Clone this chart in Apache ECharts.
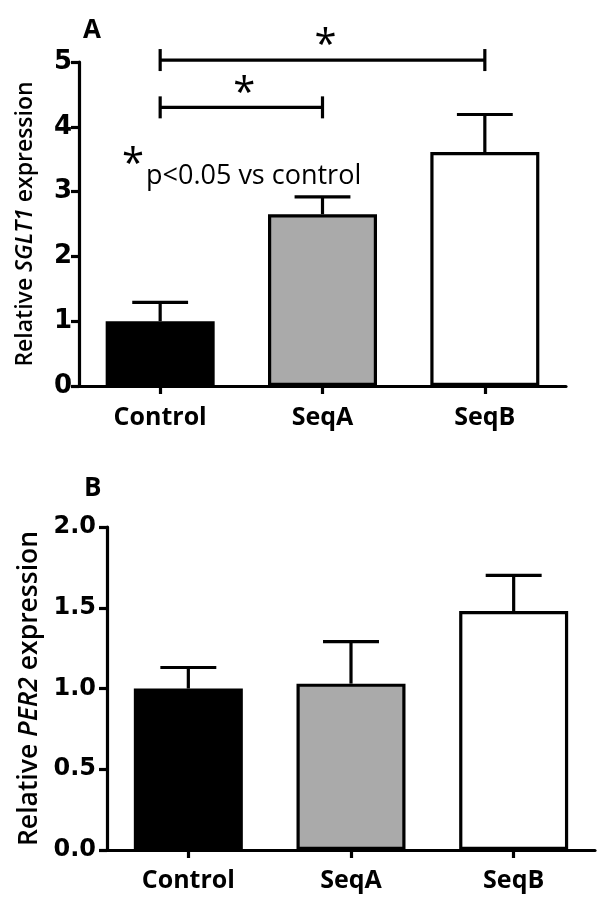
<!DOCTYPE html>
<html><head><meta charset="utf-8">
<script src="https://cdn.jsdelivr.net/npm/echarts@6.0.0/dist/echarts.min.js"></script>
<style>html,body{margin:0;padding:0;background:#fff}#c{width:608px;height:906px}</style>
</head><body><div id="c"></div>
<script>
// ---- data ----
const categories = ['Control', 'SeqA', 'SeqB'];
const sglt1Mean = [1.0, 2.65, 3.61];
const sglt1Err = [0.29, 0.27, 0.58];
const per2Mean = [1.0, 1.03, 1.48];
const per2Err = [0.13, 0.26, 0.22];
const sglt1Ticks = { min: 0, max: 5, interval: 1 };
const per2Ticks = { min: 0, max: 2, interval: 0.5 };
// significance brackets: [from category index, to category index, height]
const sigBars = [[0, 2, 5.03], [0, 1, 4.3]];
const sigLabel = '*';
const noteStar = '*';
const noteText = 'p<0.05 vs control';

// ---- styles ----
const FONT = 'Open Sans';
const NUMFONT = 'DejaVu Sans';
const barFills = ['#000000', '#aaaaaa', '#ffffff'];
const LW = 3.2;

function barData(vals) {
  return vals.map((v, i) => ({ value: v, itemStyle: { color: barFills[i] } }));
}
function errData(m, e) { return m.map((v, i) => [i, v, e[i]]); }

function errRender(params, api) {
  const i = api.value(0), m = api.value(1), e = api.value(2);
  const base = api.coord([i, m]);
  const top = api.coord([i, m + e]);
  const half = api.size([1, 0])[0] * 0.172;
  return {
    type: 'group',
    children: [
      { type: 'line', shape: { x1: base[0], y1: base[1], x2: top[0], y2: top[1] }, style: { stroke: '#000', lineWidth: LW } },
      { type: 'line', shape: { x1: top[0] - half, y1: top[1], x2: top[0] + half, y2: top[1] }, style: { stroke: '#000', lineWidth: LW } }
    ]
  };
}
function sigRender(params, api) {
  const a = api.value(0), b = api.value(1), y = api.value(2);
  const p1 = api.coord([a, y]);
  const p2 = api.coord([b, y]);
  const cap = 11;
  return {
    type: 'group',
    children: [
      { type: 'line', shape: { x1: p1[0], y1: p1[1], x2: p2[0], y2: p2[1] }, style: { stroke: '#000', lineWidth: LW } },
      { type: 'line', shape: { x1: p1[0], y1: p1[1] - cap, x2: p1[0], y2: p1[1] + cap }, style: { stroke: '#000', lineWidth: LW } },
      { type: 'line', shape: { x1: p2[0], y1: p2[1] - cap, x2: p2[0], y2: p2[1] + cap }, style: { stroke: '#000', lineWidth: LW } },
      { type: 'text', style: { text: sigLabel, x: (p1[0] + p2[0]) / 2 + 3, y: p1[1] - 13, textAlign: 'center', textVerticalAlign: 'middle', fontSize: 40, fontFamily: FONT, fill: '#000' } }
    ]
  };
}

const axisLineStyle = { show: true, lineStyle: { color: '#000', width: LW } };
const axisTickStyle = { show: true, length: 8, lineStyle: { color: '#000', width: LW } };

function xAxisCfg(gi, margin) {
  return {
    type: 'category', gridIndex: gi, data: categories,
    axisLine: axisLineStyle,
    axisTick: Object.assign({ alignWithLabel: true }, axisTickStyle),
    axisLabel: { color: '#000', fontSize: 25, fontWeight: 'bold', fontFamily: FONT, margin: margin }
  };
}
function yAxisCfg(gi, ticks, gene, nameSize, nameGap, labelSize, margin, fmt) {
  return {
    type: 'value', gridIndex: gi, min: ticks.min, max: ticks.max, interval: ticks.interval,
    splitLine: { show: false },
    axisLine: axisLineStyle,
    axisTick: axisTickStyle,
    axisLabel: { color: '#000', fontSize: labelSize, fontWeight: 'bold', fontFamily: NUMFONT, margin: margin, formatter: fmt },
    name: '{n|Relative }{i|' + gene + '}{n| expression}',
    nameLocation: 'middle', nameRotate: 90, nameGap: nameGap,
    nameTextStyle: {
      rich: {
        n: { fontSize: nameSize, fontWeight: 600, fontFamily: FONT, color: '#000' },
        i: { fontSize: nameSize, fontWeight: 600, fontStyle: 'italic', fontFamily: FONT, color: '#000' }
      }
    }
  };
}

const chart = echarts.init(document.getElementById('c'), null, { renderer: 'canvas' });
chart.setOption({
  animation: false,
  backgroundColor: '#fff',
  title: [
    { text: 'A', left: 78, top: 13, textStyle: { fontSize: 26, fontWeight: 'bold', fontFamily: FONT, color: '#000' } },
    { text: 'B', left: 79, top: 471, textStyle: { fontSize: 26, fontWeight: 'bold', fontFamily: FONT, color: '#000' } }
  ],
  grid: [
    { left: 79, top: 62, width: 487, height: 324, outerBoundsMode: 'none' },
    { left: 107, top: 527, width: 488, height: 323, outerBoundsMode: 'none' }
  ],
  xAxis: [xAxisCfg(0, 19), xAxisCfg(1, 18)],
  yAxis: [
    yAxisCfg(0, sglt1Ticks, 'SGLT1', 23, 42, 26, 7, v => String(v)),
    yAxisCfg(1, per2Ticks, 'PER2', 26.5, 64, 24, 11, v => v.toFixed(1))
  ],
  graphic: [
    { type: 'text', left: 122, top: 146, style: { text: noteStar, fontSize: 40, fontFamily: FONT, fill: '#000' } },
    { type: 'text', left: 146, top: 163, style: { text: noteText, fontSize: 27, fontFamily: FONT, fill: '#000' } }
  ],
  series: [
    { type: 'bar', xAxisIndex: 0, yAxisIndex: 0, data: barData(sglt1Mean), barWidth: 109,
      itemStyle: { borderColor: '#000', borderWidth: LW }, z: 2 },
    { type: 'custom', xAxisIndex: 0, yAxisIndex: 0, data: errData(sglt1Mean, sglt1Err), renderItem: errRender,
      encode: { x: 0, y: 1 }, z: 3 },
    { type: 'custom', xAxisIndex: 0, yAxisIndex: 0, data: sigBars, renderItem: sigRender,
      encode: { x: [0, 1], y: 2 }, z: 3, clip: false },
    { type: 'bar', xAxisIndex: 1, yAxisIndex: 1, data: barData(per2Mean), barWidth: 109,
      itemStyle: { borderColor: '#000', borderWidth: LW }, z: 2 },
    { type: 'custom', xAxisIndex: 1, yAxisIndex: 1, data: errData(per2Mean, per2Err), renderItem: errRender,
      encode: { x: 0, y: 1 }, z: 3 }
  ]
});
</script>
</body></html>
